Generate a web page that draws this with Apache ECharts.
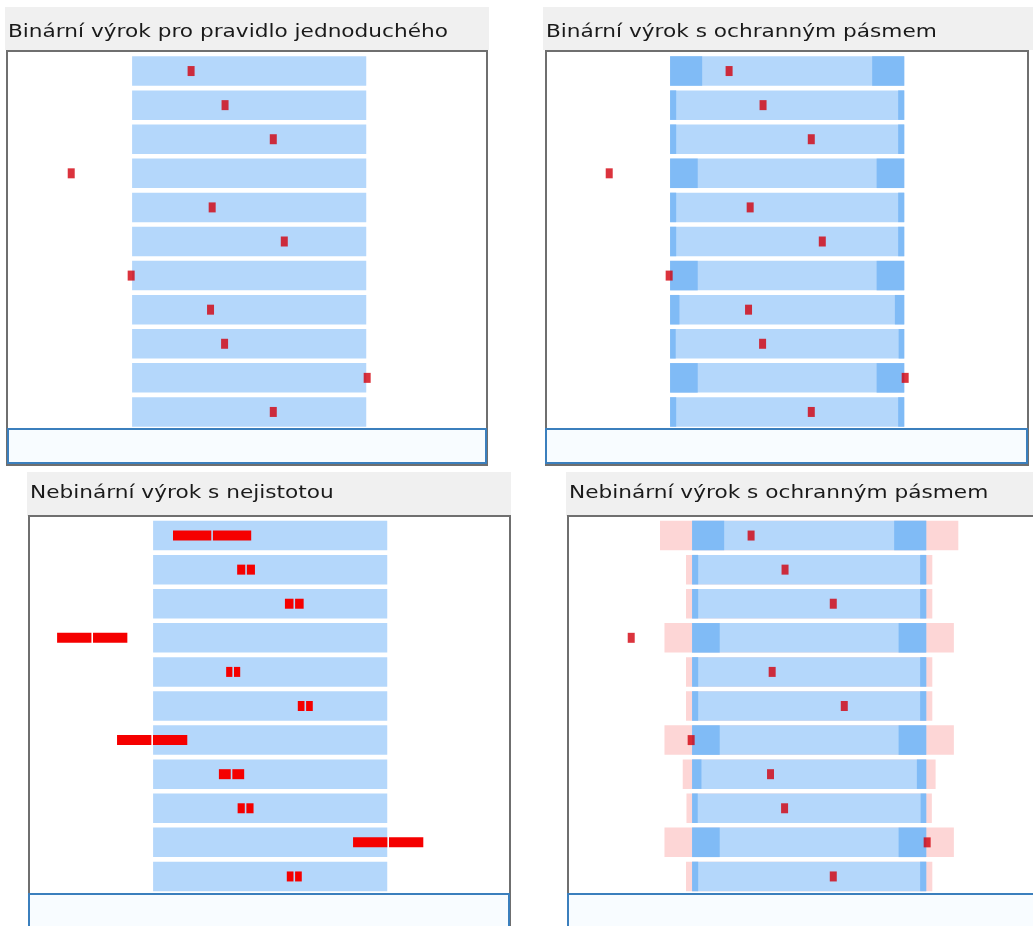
<!DOCTYPE html>
<html>
<head>
<meta charset="utf-8">
<script src="https://cdn.jsdelivr.net/npm/echarts@6/dist/echarts.min.js"></script>
<style>
  html, body { margin: 0; padding: 0; background: #fff; }
  #chart { width: 1033px; height: 926px; }
</style>
</head>
<body>
<div id="chart"></div>
<script>
// 11 rows (rules), shared by all four panels
const rows = ['1', '2', '3', '4', '5', '6', '7', '8', '9', '10', '11'];
// verdict position of each row, bar spans 0..100
const verdict = [25.2, 39.7, 60.3, -26, 34.2, 65, -0.4, 33.5, 39.5, 100.4, 60.3];
// guard band width (same units) for the two "ochranné pásmo" panels
const guard = [13.7, 2.6, 2.6, 11.8, 2.6, 2.6, 11.8, 4, 2.4, 11.8, 2.6];
// half width of the uncertainty for the "nejistota" panel
const uncertainty = [16.7, 3.8, 4, 15, 3, 3.2, 15, 5.4, 3.4, 15, 3.2];
const barRange = [0, 100];
const titles = [
  'Binární výrok pro pravidlo jednoduchého',
  'Binární výrok s ochranným pásmem',
  'Nebinární výrok s nejistotou',
  'Nebinární výrok s ochranným pásmem'
];

const LIGHT = '#b4d7fb';
const DARK = '#80bbf6';
const PINK = '#fdd6d6';
const RED = '#d2000c';
const RED2 = '#f50000';

const chart = echarts.init(document.getElementById('chart'));

// panel layout: grid, x range, frame, title strip, bottom box, title position
const panels = [
  { gx: 8, gy: 54, gw: 480, xr: [-53, 152], strip: [5, 7, 484, 43], frame: [7, 51, 480, 414], box: [8, 429, 478, 34], tx: 8, ty: 23 },
  { gx: 546, gy: 54, gw: 480, xr: [-53, 152], strip: [543, 7, 490, 43], frame: [546, 51, 482, 414], box: [546, 429, 481, 34], tx: 546, ty: 23 },
  { gx: 29, gy: 518.5, gw: 480, xr: [-53, 152], strip: [27, 472, 484, 44], frame: [29, 516, 481, 420], box: [29, 894, 480, 40], tx: 30, ty: 484 },
  { gx: 568, gy: 518.5, gw: 465, xr: [-53, 145.6], strip: [566, 472, 467, 44], frame: [568, 516, 480, 420], box: [568, 894, 480, 40], tx: 569, ty: 484 }
];

function rect(api, from, to, cat, h) {
  const p0 = api.coord([from, cat]);
  const p1 = api.coord([to, cat]);
  return { x: p0[0], y: p0[1] - h / 2, width: p1[0] - p0[0], height: h };
}

function barHeight(api) {
  return api.size([0, 1])[1] * 0.865;
}

const grids = [], xAxes = [], yAxes = [], series = [], graphics = [];

panels.forEach(function (p, i) {
  grids.push({ left: p.gx, top: p.gy, width: p.gw, height: 375 });
  xAxes.push({ type: 'value', gridIndex: i, min: p.xr[0], max: p.xr[1], show: false });
  yAxes.push({ type: 'category', gridIndex: i, data: rows, inverse: true, show: false });

  graphics.push({
    type: 'rect', z: -10,
    shape: { x: p.strip[0], y: p.strip[1], width: p.strip[2], height: p.strip[3] },
    style: { fill: '#f0f0f0' }
  });
  graphics.push({
    type: 'rect', z: -9,
    shape: { x: p.frame[0], y: p.frame[1], width: p.frame[2], height: p.frame[3] },
    style: { fill: '#fff', stroke: '#6f6f6f', lineWidth: 2 }
  });
  graphics.push({
    type: 'rect', z: -8,
    shape: { x: p.box[0], y: p.box[1], width: p.box[2], height: p.box[3] },
    style: { fill: '#f8fcff', stroke: '#3b7fbd', lineWidth: 2 }
  });
  // panel title, stretched a little to the width of the original UI font
  graphics.push({
    type: 'text', z: -7,
    x: p.tx, y: p.ty, scaleX: 1.17,
    style: {
      text: titles[i], x: 0, y: 0,
      font: 'normal 18.5px "DejaVu Sans"',
      fill: '#1a1a1a', textVerticalAlign: 'top'
    }
  });
});

const rowData = rows.map(function (r, i) { return [i, verdict[i], guard[i], uncertainty[i]]; });

// plain bars: panel 1 and 3
[0, 2].forEach(function (gi) {
  series.push({
    type: 'custom', xAxisIndex: gi, yAxisIndex: gi, silent: true,
    data: rowData,
    encode: { y: 0, x: 1 },
    renderItem: function (params, api) {
      return { type: 'rect', shape: rect(api, barRange[0], barRange[1], api.value(0), barHeight(api)), style: { fill: LIGHT } };
    }
  });
});

// bars with guard bands: panel 2 and 4 (panel 4 also has pink outer band)
[1, 3].forEach(function (gi) {
  series.push({
    type: 'custom', xAxisIndex: gi, yAxisIndex: gi, silent: true,
    data: rowData,
    encode: { y: 0, x: 1 },
    renderItem: function (params, api) {
      const cat = api.value(0), g = api.value(2), h = barHeight(api);
      const children = [];
      if (gi === 3) {
        children.push({ type: 'rect', shape: rect(api, barRange[0] - g, barRange[1] + g, cat, h), style: { fill: PINK } });
      }
      children.push({ type: 'rect', shape: rect(api, barRange[0], barRange[1], cat, h), style: { fill: LIGHT } });
      children.push({ type: 'rect', shape: rect(api, barRange[0], barRange[0] + g, cat, h), style: { fill: DARK } });
      children.push({ type: 'rect', shape: rect(api, barRange[1] - g, barRange[1], cat, h), style: { fill: DARK } });
      return { type: 'group', children: children };
    }
  });
});

// point verdicts: panels 1, 2, 4
[0, 1, 3].forEach(function (gi) {
  series.push({
    type: 'scatter', xAxisIndex: gi, yAxisIndex: gi, silent: true, z: 5,
    symbol: 'rect', symbolSize: [7, 10],
    itemStyle: { color: RED },
    data: rows.map(function (r, i) { return [verdict[i], i]; })
  });
});

// verdict with uncertainty: panel 3, two halves with a small gap
series.push({
  type: 'custom', xAxisIndex: 2, yAxisIndex: 2, silent: true, z: 5,
  data: rowData,
  encode: { y: 0, x: 1 },
  renderItem: function (params, api) {
    const cat = api.value(0), c = api.value(1), u = api.value(3);
    const a = rect(api, c - u, c, cat, 10);
    const b = rect(api, c, c + u, cat, 10);
    a.width -= 0.8;
    b.x += 0.8; b.width -= 0.8;
    return {
      type: 'group', children: [
        { type: 'rect', shape: a, style: { fill: RED2 } },
        { type: 'rect', shape: b, style: { fill: RED2 } }
      ]
    };
  }
});

chart.setOption({
  animation: false,
  backgroundColor: '#fff',
  grid: grids,
  xAxis: xAxes,
  yAxis: yAxes,
  graphic: graphics,
  series: series
});
</script>
</body>
</html>
